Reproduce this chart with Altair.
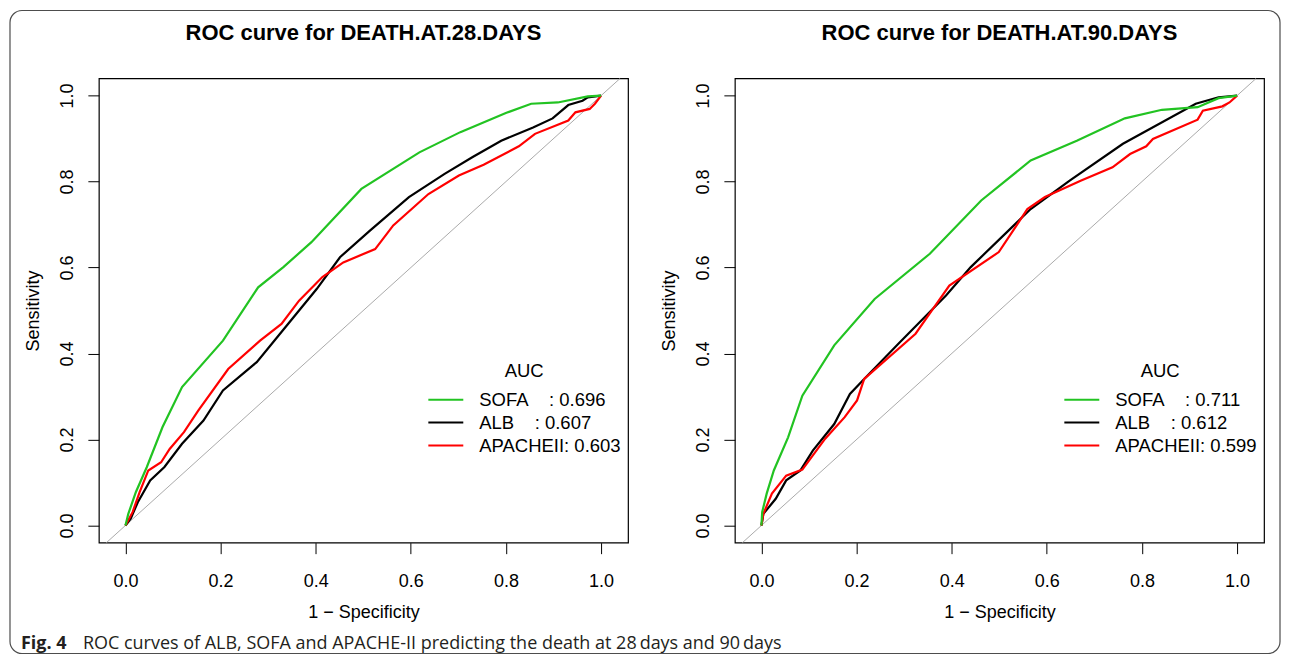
import altair as alt
import pandas as pd

# ---------------- data ----------------
models = ["SOFA", "ALB", "APACHEII"]
colors = ["#22C322", "#000000", "#FF0000"]
auc_28 = ["0.696", "0.607", "0.603"]
auc_90 = ["0.711", "0.612", "0.599"]
pads = ["\u00a0" * 4, "\u00a0" * 4, ""]

# 28 days (x = 1 - specificity, y = sensitivity)
sofa28_x = [0, 0.006, 0.022, 0.045, 0.078, 0.119, 0.205, 0.279, 0.332, 0.391, 0.496, 0.618, 0.704, 0.801, 0.853, 0.909, 0.972, 1]
sofa28_y = [0, 0.027, 0.078, 0.136, 0.229, 0.322, 0.430, 0.554, 0.601, 0.659, 0.783, 0.868, 0.915, 0.960, 0.981, 0.984, 0.998, 1]
alb28_x = [0, 0.011, 0.026, 0.052, 0.082, 0.119, 0.164, 0.205, 0.276, 0.328, 0.402, 0.451, 0.514, 0.596, 0.671, 0.730, 0.790, 0.857, 0.898, 0.931, 0.961, 0.972, 1]
alb28_y = [0, 0.016, 0.054, 0.105, 0.136, 0.190, 0.244, 0.314, 0.380, 0.450, 0.550, 0.624, 0.686, 0.764, 0.818, 0.857, 0.895, 0.926, 0.947, 0.978, 0.988, 0.996, 1]
apache28_x = [0, 0.015, 0.030, 0.048, 0.075, 0.093, 0.123, 0.153, 0.216, 0.283, 0.328, 0.365, 0.414, 0.458, 0.525, 0.563, 0.637, 0.701, 0.753, 0.827, 0.861, 0.931, 0.946, 0.976, 0.987, 1]
apache28_y = [0, 0.031, 0.078, 0.128, 0.147, 0.178, 0.217, 0.267, 0.364, 0.430, 0.469, 0.523, 0.578, 0.612, 0.643, 0.698, 0.771, 0.814, 0.839, 0.882, 0.911, 0.942, 0.961, 0.969, 0.981, 1]

# 90 days
sofa90_x = [0, 0.0015, 0.011, 0.026, 0.056, 0.086, 0.153, 0.238, 0.354, 0.462, 0.566, 0.663, 0.764, 0.842, 0.917, 0.961, 1]
sofa90_y = [0, 0.031, 0.074, 0.128, 0.205, 0.302, 0.419, 0.527, 0.632, 0.756, 0.849, 0.895, 0.947, 0.967, 0.973, 0.994, 1]
alb90_x = [0, 0.004, 0.030, 0.052, 0.082, 0.108, 0.153, 0.186, 0.216, 0.291, 0.388, 0.440, 0.566, 0.648, 0.760, 0.913, 0.961, 1]
alb90_y = [0, 0.027, 0.062, 0.105, 0.128, 0.174, 0.236, 0.306, 0.341, 0.426, 0.535, 0.601, 0.736, 0.802, 0.888, 0.981, 0.996, 1]
apache90_x = [0, 0.004, 0.022, 0.052, 0.086, 0.134, 0.175, 0.201, 0.216, 0.324, 0.358, 0.395, 0.499, 0.559, 0.596, 0.671, 0.738, 0.775, 0.809, 0.823, 0.917, 0.928, 0.969, 0.984, 1]
apache90_y = [0, 0.027, 0.074, 0.116, 0.130, 0.202, 0.252, 0.291, 0.341, 0.446, 0.500, 0.558, 0.636, 0.736, 0.764, 0.802, 0.833, 0.864, 0.882, 0.899, 0.944, 0.965, 0.975, 0.984, 1]

diag_x = [-0.04, 1.04]
diag_y = [-0.04, 1.04]

tick_values = [0.0, 0.2, 0.4, 0.6, 0.8, 1.0]
title_28 = "ROC curve for DEATH.AT.28.DAYS"
title_90 = "ROC curve for DEATH.AT.90.DAYS"
x_title = "1 \u2212 Specificity"
y_title = "Sensitivity"
legend_title = "AUC\u00a0\u00a0"
caption_bold = "Fig. 4"
caption_text = "ROC curves of ALB, SOFA and APACHE-II predicting the death at 28\u2009days and 90\u2009days"

# ---------------- layout / style ----------------
FONT = "Liberation Sans"
W, H = 530, 465
x_domain = [-0.0559, 1.0566]
y_domain = [-0.04, 1.04]


def x_enc():
    return alt.X("fpr:Q", scale=alt.Scale(domain=x_domain, nice=False, zero=False),
                 axis=alt.Axis(values=tick_values, format=".1f", title=x_title,
                               labelPadding=19, titlePadding=13))


def y_enc():
    return alt.Y("tpr:Q", scale=alt.Scale(domain=y_domain, nice=False, zero=False),
                 axis=alt.Axis(values=tick_values, format=".1f", title=y_title,
                               labelAngle=270, labelAlign="center", labelBaseline="bottom",
                               labelPadding=11, titlePadding=16))


def panel(title, curves, aucs, with_frame):
    labels = [f"{m}{p}: {a}" for m, p, a in zip(models, pads, aucs)]
    rows = []
    for m, lab, (xs, ys) in zip(models, labels, curves):
        for i, (x, y) in enumerate(zip(xs, ys)):
            rows.append({"model": m, "label": lab, "fpr": x, "tpr": y, "order": i})
    df = pd.DataFrame(rows)

    legend = alt.Legend(orient="none", legendX=329, legendY=284, title=legend_title,
                        titleFont=FONT, titleFontSize=18.5, titleFontWeight="normal",
                        titleColor="black", titleAnchor="middle", titleAlign="center",
                        titlePadding=8, symbolType="stroke", symbolSize=1225,
                        symbolStrokeWidth=2, clipHeight=22.5, labelFont=FONT,
                        labelFontSize=18.5, labelColor="black", labelOffset=15,
                        padding=0, rowPadding=0)
    color = alt.Color("label:N", scale=alt.Scale(domain=labels, range=colors), legend=legend)

    diag = alt.Chart(pd.DataFrame({"fpr": diag_x, "tpr": diag_y})).mark_line(
        color="#AAAAAA", strokeWidth=1).encode(x=x_enc(), y=y_enc())

    layers = [diag]
    for m in ["ALB", "APACHEII", "SOFA"]:
        layers.append(
            alt.Chart(df).transform_filter(alt.datum.model == m).mark_line(strokeWidth=2.2).encode(
                x=x_enc(), y=y_enc(), color=color, order="order:Q"))

    ttl = alt.Chart(pd.DataFrame({"t": [title]})).mark_text(
        font=FONT, fontSize=22, fontWeight="bold", color="black", align="center",
        baseline="alphabetic").encode(text="t:N", x=alt.value(W / 2), y=alt.value(-38))
    layers.append(ttl)

    if with_frame:
        frame = alt.Chart(pd.DataFrame({"a": [0]})).mark_rect(
            fill="transparent", stroke="#4D4D4D", strokeWidth=1.2, cornerRadius=12).encode(
            x=alt.value(-89), x2=alt.value(1183), y=alt.value(-68), y2=alt.value(576))
        cap1 = alt.Chart(pd.DataFrame({"t": [caption_bold]})).mark_text(
            font="Open Sans", fontSize=18, fontWeight="bold", color="#231F20", align="left",
            baseline="alphabetic").encode(text="t:N", x=alt.value(-78), y=alt.value(571))
        cap2 = alt.Chart(pd.DataFrame({"t": [caption_text]})).mark_text(
            font="Open Sans", fontSize=18, color="#231F20", align="left",
            baseline="alphabetic").encode(text="t:N", x=alt.value(-16), y=alt.value(571))
        layers += [frame, cap1, cap2]

    return alt.layer(*layers).properties(width=W, height=H)


left = panel(title_28, [(sofa28_x, sofa28_y), (alb28_x, alb28_y), (apache28_x, apache28_y)], auc_28, True)
right = panel(title_90, [(sofa90_x, sofa90_y), (alb90_x, alb90_y), (apache90_x, apache90_y)], auc_90, False)

chart = alt.hconcat(left, right, spacing=107, bounds="flush", padding=0,
                    background="white").resolve_scale(
    color="independent").configure_view(stroke="black", strokeWidth=1.2).configure_axis(
    domain=False, grid=False, tickColor="black", tickSize=11, tickWidth=1,
    labelColor="black", titleColor="black", labelFont=FONT, titleFont=FONT,
    labelFontSize=18, titleFontSize=18, titleFontWeight="normal")

chart.save("out.html", embed_options={"renderer": "svg", "actions": False})
